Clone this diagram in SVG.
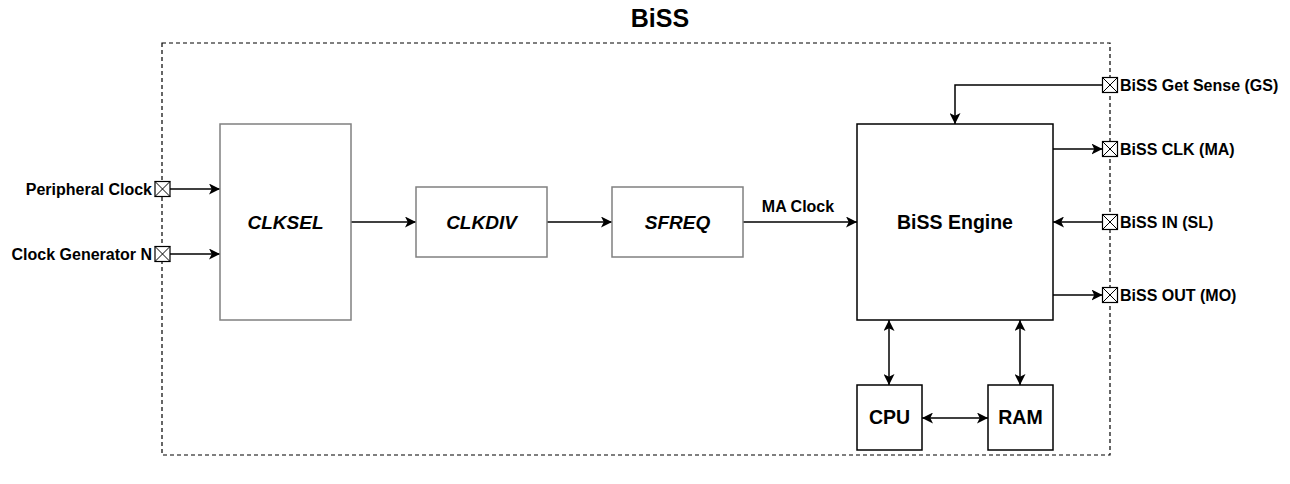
<svg xmlns="http://www.w3.org/2000/svg" width="1290" height="484" viewBox="0 0 1290 484">
<defs>
<marker id="arr" viewBox="0 0 10 10" refX="10" refY="5" markerWidth="11" markerHeight="11" markerUnits="userSpaceOnUse" orient="auto-start-reverse">
<path d="M0,0 L10,5 L0,10 L2.5,5 Z" fill="#000"/>
</marker>
</defs>
<style>
text{font-family:"Liberation Sans",Arial,sans-serif;font-weight:bold;fill:#000}
.blk{fill:#fff;stroke:#808080;stroke-width:1.5}
.eng{fill:#fff;stroke:#000;stroke-width:1.5}
.big{font-size:19px;font-style:italic}
.mid{font-size:19.5px}
.lbl{font-size:16px}
.c{stroke:#000;stroke-width:1.5;fill:none}
.port rect{fill:#fff;stroke:#000;stroke-width:1.2}
.port path{stroke:#000;stroke-width:1;fill:none}
</style>
<rect width="1290" height="484" fill="#fff"/>
<g id="container">
<rect x="162" y="43" width="948" height="412" fill="none" stroke="#000" stroke-width="1.2" stroke-dasharray="4,3"/>
<text x="660" y="27" text-anchor="middle" font-size="25">BiSS</text>
</g>
<g id="connectors">
<path class="c" d="M170,189 H220" marker-end="url(#arr)"/>
<path class="c" d="M170,254 H220" marker-end="url(#arr)"/>
<path class="c" d="M351,222 H416" marker-end="url(#arr)"/>
<path class="c" d="M547,222 H612" marker-end="url(#arr)"/>
<path class="c" d="M743,222 H857" marker-end="url(#arr)"/>
<path class="c" d="M1102.5,85 H955 V124" marker-end="url(#arr)"/>
<path class="c" d="M1053,149 H1102.5" marker-end="url(#arr)"/>
<path class="c" d="M1102.5,222 H1053" marker-end="url(#arr)"/>
<path class="c" d="M1053,295 H1102.5" marker-end="url(#arr)"/>
<path class="c" d="M889,320 V385" marker-start="url(#arr)" marker-end="url(#arr)"/>
<path class="c" d="M1020,320 V385" marker-start="url(#arr)" marker-end="url(#arr)"/>
<path class="c" d="M922,418 H988" marker-start="url(#arr)" marker-end="url(#arr)"/>
<text x="798" y="212" text-anchor="middle" class="lbl">MA Clock</text>
</g>
<g id="clksel"><rect class="blk" x="220" y="124" width="131" height="196"/><text class="big" x="285.5" y="229" text-anchor="middle">CLKSEL</text></g>
<g id="clkdiv"><rect class="blk" x="416" y="187" width="131" height="70"/><text class="big" x="481.5" y="229" text-anchor="middle">CLKDIV</text></g>
<g id="sfreq"><rect class="blk" x="612" y="187" width="131" height="70"/><text class="big" x="677.5" y="229" text-anchor="middle">SFREQ</text></g>
<g id="engine"><rect class="eng" x="857" y="124" width="196" height="196"/><text class="mid" x="955" y="229" text-anchor="middle">BiSS Engine</text></g>
<g id="cpu"><rect class="eng" x="857" y="385" width="65" height="65"/><text class="mid" x="889.5" y="424" text-anchor="middle">CPU</text></g>
<g id="ram"><rect class="eng" x="988" y="385" width="65" height="65"/><text class="mid" x="1020.5" y="424" text-anchor="middle">RAM</text></g>
<g id="port-periph" class="port"><rect x="155" y="181.5" width="15" height="15"/><path d="M155,181.5 L170,196.5 M170,181.5 L155,196.5"/><text x="152" y="195" text-anchor="end" class="lbl">Peripheral Clock</text></g>
<g id="port-clkgen" class="port"><rect x="155" y="246.5" width="15" height="15"/><path d="M155,246.5 L170,261.5 M170,246.5 L155,261.5"/><text x="152" y="260" text-anchor="end" class="lbl">Clock Generator N</text></g>
<g id="port-gs" class="port"><rect x="1102.5" y="77.5" width="15" height="15"/><path d="M1102.5,77.5 L1117.5,92.5 M1117.5,77.5 L1102.5,92.5"/><text x="1120" y="91" class="lbl">BiSS Get Sense (GS)</text></g>
<g id="port-ma" class="port"><rect x="1102.5" y="141.5" width="15" height="15"/><path d="M1102.5,141.5 L1117.5,156.5 M1117.5,141.5 L1102.5,156.5"/><text x="1120" y="155" class="lbl">BiSS CLK (MA)</text></g>
<g id="port-sl" class="port"><rect x="1102.5" y="214.5" width="15" height="15"/><path d="M1102.5,214.5 L1117.5,229.5 M1117.5,214.5 L1102.5,229.5"/><text x="1120" y="228" class="lbl">BiSS IN (SL)</text></g>
<g id="port-mo" class="port"><rect x="1102.5" y="287.5" width="15" height="15"/><path d="M1102.5,287.5 L1117.5,302.5 M1117.5,287.5 L1102.5,302.5"/><text x="1120" y="301" class="lbl">BiSS OUT (MO)</text></g>
</svg>
